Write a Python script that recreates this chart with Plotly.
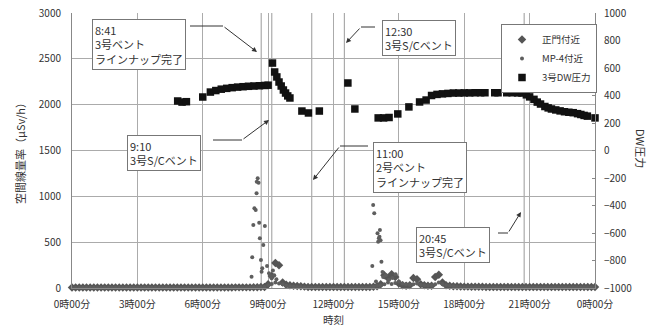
import plotly.graph_objects as go

# ---- data -------------------------------------------------------------
# 10-minute sampling slots over the day, in hours (0:00 .. 24:00)
slot_times = [i / 6 for i in range(145)]

# 正門付近 (uSv/h), one value per 10-minute slot
gate_values = [
    6, 6, 5, 6, 6, 5, 6, 6, 5, 6, 6, 6,          # 0:00-1:50
    6, 6, 6, 5, 6, 6, 6, 6, 5, 6, 6, 6,          # 2:00-3:50
    6, 6, 6, 6, 6, 6, 6, 6, 6, 6, 6, 6,          # 4:00-5:50
    6, 6, 6, 6, 6, 6, 6, 6, 6, 7, 7, 7,          # 6:00-7:50
    7, 7, 8, 9, 10, 12, 40, 130, 272, 248, 60, 35,  # 8:00-9:50
    30, 25, 22, 18, 15, 12, 12, 10, 10, 10, 10, 10,  # 10:00-11:50
    10, 10, 10, 10, 10, 10, 10, 10, 10, 10, 12, 14,  # 12:00-13:50
    20, 40, 140, 110, 150, 120, 50, 30, 25, 30, 110, 95,  # 14:00-15:50
    40, 30, 25, 25, 120, 145, 60, 30, 25, 20, 18, 16,  # 16:00-17:50
    15, 15, 14, 14, 13, 13, 12, 12, 12, 12, 12, 12,  # 18:00-19:50
    12, 12, 12, 12, 12, 12, 12, 12, 12, 12, 12, 12,  # 20:00-21:50
    12, 12, 12, 12, 12, 12, 12, 12, 12, 12, 12, 12,  # 22:00-23:50
    12,                                              # 24:00
]

# MP-4付近 (uSv/h), regular 10-minute readings
mp4_base_values = [
    3, 3, 2, 3, 3, 2, 3, 3, 2, 3, 3, 3,
    3, 3, 3, 2, 3, 3, 3, 3, 2, 3, 3, 3,
    3, 3, 3, 3, 3, 3, 3, 3, 3, 3, 3, 3,
    3, 3, 3, 3, 3, 3, 3, 3, 3, 4, 4, 4,
    4, 5, 6, 8, 10, 12, 30, 45, 60, 50, 40, 25,
    20, 15, 12, 10, 8, 6, 5, 5, 5, 5, 5, 5,
    5, 5, 5, 5, 5, 5, 5, 5, 5, 5, 8, 15,
    25, 30, 40, 60, 45, 55, 70, 50, 40, 35, 40, 50,
    35, 30, 28, 30, 40, 60, 45, 30, 25, 20, 15, 12,
    10, 10, 9, 9, 8, 8, 8, 8, 8, 8, 7, 7,
    7, 7, 7, 7, 7, 7, 7, 7, 7, 7, 7, 7,
    7, 7, 7, 7, 7, 7, 7, 7, 7, 7, 7, 7,
    7,
]

# MP-4付近, additional readings during the two peaks
mp4_spike_times = [
    8.24, 8.27, 8.32, 8.37, 8.43, 8.47, 8.48, 8.52, 8.56, 8.59, 8.62, 8.67,
    8.70, 8.73, 8.78, 8.85, 8.95, 9.04, 9.10, 9.16, 9.22, 9.28, 9.38,
    13.78, 13.82, 13.87, 13.95, 14.02, 14.05, 14.08, 14.11, 14.13, 14.16,
    14.20, 14.25, 14.28, 14.40, 14.55, 14.70, 14.85,
]
mp4_spike_values = [
    123, 335, 687, 869, 851, 1033, 1160, 1197, 1149, 712, 542, 305,
    178, 215, 469, 676, 240, 160, 131, 106, 190, 140, 95,
    240, 906, 815, 70, 596, 505, 542, 560, 633, 520,
    287, 175, 120, 140, 90, 110, 150,
]

# 3号DW圧力 (kPa)
dw_times = [
    4.85, 5.05, 5.25, 6.0,
    6.35, 6.6, 6.85, 7.1, 7.35, 7.6, 7.85, 8.1, 8.35, 8.6, 8.85, 9.0,
    9.2, 9.3, 9.4, 9.5, 9.6, 9.7, 9.8, 9.9, 10.0,
    10.55, 10.85, 11.35,
    12.66, 12.98,
    14.05, 14.3, 14.55,
    14.95, 15.46, 15.95, 16.25,
    16.5, 16.75, 17.0, 17.25, 17.5,
    17.75, 18.0, 18.25, 18.5, 18.75, 18.95,
    19.4, 19.55,
    19.95, 20.2, 20.45, 20.65,
    20.85, 21.0, 21.2, 21.35, 21.5, 21.7, 21.85,
    22.0, 22.2, 22.4, 22.6, 22.8, 23.0, 23.2, 23.35, 23.5, 23.65,
    24.0,
]
dw_values = [
    360, 352, 355, 389,
    425, 436, 446, 452, 457, 461, 464, 467, 469, 471, 473, 475,
    636, 571, 535, 498, 469, 440, 418, 397, 382,
    287, 273, 287,
    491, 302,
    237, 237, 240,
    266, 317, 353, 367,
    400, 408, 412, 415, 418,
    418, 419, 419, 420, 420, 420,
    420, 420,
    420, 420, 419, 418,
    405, 390, 372, 352, 338, 320, 310,
    302, 295, 288, 282, 278, 275, 268, 262, 255, 250,
    237,
]

# vent events
event_times = [8 + 41 / 60, 9 + 10 / 60, 11.0, 12.5, 20.75]
event_labels = [
    "8:41<br>3号ベント<br>ラインナップ完了",
    "9:10<br>3号S/Cベント",
    "11:00<br>2号ベント<br>ラインナップ完了",
    "12:30<br>3号S/Cベント",
    "20:45<br>3号S/Cベント",
]

hour_ticks = [0, 3, 6, 9, 12, 15, 18, 21, 24]
hour_labels = ["0時00分", "3時00分", "6時00分", "9時00分", "12時00分",
               "15時00分", "18時00分", "21時00分", "0時00分"]

# ---- layout helpers (pixel positions inside the 658x326 canvas) --------
W, H = 658, 326
PL, PR, PT, PB = 72, 595, 13, 288


def fx(x):
    return (x - PL) / (PR - PL)


def fy(y):
    return (PB - y) / (PB - PT)


FONT = "Noto Sans CJK JP"
GRID = "#ababab"
BORDER = "#777777"
TXT = "#333333"

# callout geometry: box top-left, connector segment (x0, x1, y), arrow tip
callouts = [
    dict(box=(92, 19), seg=(190, 223, 26), tip=(257, 52)),
    dict(box=(127, 135), seg=(213, 242, 140), tip=(269, 120)),
    dict(box=(373, 142), seg=(368, 340, 146), tip=(313, 180)),
    dict(box=(382, 20), seg=(375, 361, 27), tip=(346, 43)),
    dict(box=(416, 227), seg=(498, 508, 233), tip=(521, 212)),
]

fig = go.Figure()

fig.add_trace(go.Scatter(
    x=slot_times, y=gate_values, name="正門付近", mode="markers",
    marker=dict(symbol="diamond", size=6.5, color="#555555"),
    cliponaxis=False,
))
fig.add_trace(go.Scatter(
    x=slot_times + mp4_spike_times, y=mp4_base_values + mp4_spike_values,
    name="MP-4付近", mode="markers",
    marker=dict(symbol="circle", size=4, color="#5e5e5e"),
    cliponaxis=False,
))
fig.add_trace(go.Scatter(
    x=dw_times, y=dw_values, name="3号DW圧力", mode="markers", yaxis="y2",
    marker=dict(symbol="square", size=7.5, color="#111111"),
    cliponaxis=False,
))

shapes = []
for t in event_times:
    shapes.append(dict(type="line", xref="x", yref="paper", x0=t, x1=t, y0=0, y1=1,
                       line=dict(color=GRID, width=1.2), layer="below"))

annotations = []
for c, label in zip(callouts, event_labels):
    bx, by = c["box"]
    annotations.append(dict(
        xref="paper", yref="paper", x=fx(bx), y=fy(by), xanchor="left", yanchor="top",
        text=label, align="left", showarrow=False,
        font=dict(family=FONT, size=11, color=TXT),
        bgcolor="white", bordercolor=BORDER, borderwidth=1, borderpad=2,
    ))
    x0, x1, sy = c["seg"]
    shapes.append(dict(type="line", xref="paper", yref="paper",
                       x0=fx(x0), x1=fx(x1), y0=fy(sy), y1=fy(sy),
                       line=dict(color="#333333", width=1)))
    tx, ty = c["tip"]
    annotations.append(dict(
        xref="paper", yref="paper", x=fx(tx), y=fy(ty), text="",
        showarrow=True, ax=x1 - tx, ay=sy - ty,
        arrowhead=2, arrowsize=1, arrowwidth=1, arrowcolor="#333333",
    ))

# axis titles
title_font = dict(family=FONT, size=11, color=TXT)
annotations.append(dict(
    xref="paper", yref="paper", x=fx(20), y=fy(151), text="空間線量率（μSv/h）",
    xanchor="center", yanchor="middle", textangle=-90, showarrow=False, font=title_font,
))
annotations.append(dict(
    xref="paper", yref="paper", x=fx(641), y=fy(148), text="DW圧力",
    xanchor="center", yanchor="middle", textangle=90, showarrow=False, font=title_font,
))
annotations.append(dict(
    xref="paper", yref="paper", x=fx(333), y=fy(319), text="時刻",
    xanchor="center", yanchor="middle", showarrow=False,
    font=dict(family=FONT, size=10.5, color=TXT),
))

fig.update_layout(
    width=W, height=H,
    margin=dict(l=PL, r=W - PR, t=PT, b=H - PB, autoexpand=False),
    paper_bgcolor="white", plot_bgcolor="white",
    font=dict(family=FONT, size=10, color=TXT),
    showlegend=True,
    legend=dict(x=fx(597), y=fy(24), xanchor="right", yanchor="top",
                bgcolor="white", bordercolor=BORDER, borderwidth=1,
                font=dict(family=FONT, size=9.5, color=TXT),
                itemsizing="trace", tracegroupgap=0),
    xaxis=dict(range=[0, 24], tickvals=hour_ticks, ticktext=hour_labels,
               showgrid=True, gridcolor=GRID, gridwidth=1.2,
               showline=True, linecolor="#888888", zeroline=False,
               ticks="", ticklabelstandoff=7, automargin=False),
    yaxis=dict(range=[0, 3000], dtick=500, showgrid=True, gridcolor=GRID, gridwidth=1.2,
               showline=True, linecolor="#888888", zeroline=False, ticks="",
               ticklabelstandoff=8, automargin=False),
    yaxis2=dict(range=[-1000, 1000], dtick=200, overlaying="y", side="right",
                showgrid=False, showline=True, linecolor="#888888", zeroline=False,
                ticks="inside", ticklen=3, tickcolor="#888888", ticklabelstandoff=6,
                automargin=False),
    shapes=shapes,
    annotations=annotations,
)

fig.write_html("out.html")
